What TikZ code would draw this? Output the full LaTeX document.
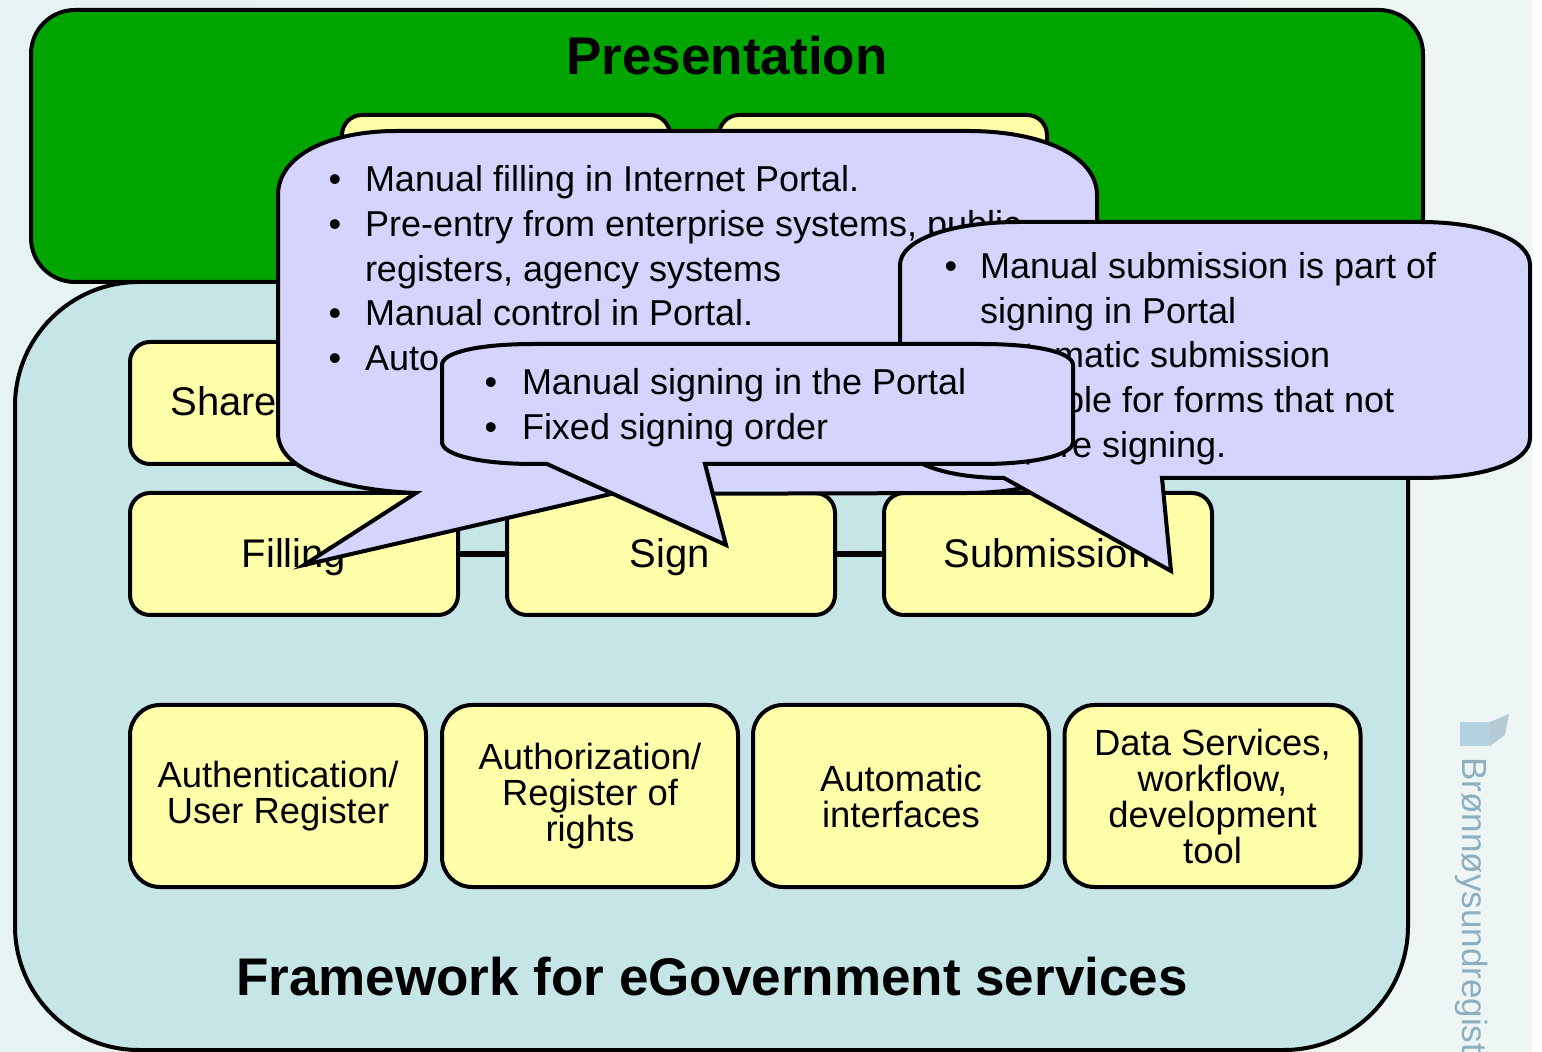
\documentclass[tikz,border=0pt]{standalone}
\usepackage{fontspec}
\setmainfont{Liberation Sans}
\definecolor{pagebg}{HTML}{EEF6F5}
\definecolor{pagebgl}{HTML}{E6F3F3}
\definecolor{greenfill}{HTML}{00A500}
\definecolor{frame}{HTML}{C5E5E7}
\definecolor{boxy}{HTML}{FFFFAA}
\definecolor{call}{HTML}{D4D4FE}
\definecolor{wm}{HTML}{8FAFBF}
\tikzset{
 x=0.5pt,y=-0.5pt,
 panel/.style={draw=black,line width=2pt,inner sep=0pt,outer sep=0pt},
 ybox/.style={panel,fill=boxy,rounded corners=10pt,minimum width=164pt,minimum height=61pt},
 lbox/.style={panel,fill=boxy,rounded corners=15pt,minimum width=148pt,minimum height=91pt,align=center,font=\fontsize{18.2}{18}\selectfont},
 balloon/.style={draw=black,line width=2pt,fill=call,line join=miter},
 ctext/.style={anchor=base west,inner sep=0pt,outer sep=0pt,font=\fontsize{18}{22}\selectfont},
 blt/.style={anchor=base,inner sep=0pt,outer sep=0pt,font=\fontsize{18}{22}\selectfont},
 bigt/.style={anchor=base,inner sep=0pt,font=\fontsize{20}{24}\selectfont},
 ttl/.style={anchor=base,inner sep=0pt,font=\fontsize{26.5}{30}\bfseries\selectfont},
 link/.style={draw=black,line width=2.6pt}
}
\begin{document}
\begin{tikzpicture}
\useasboundingbox (0,0) rectangle (1542,1052);
\fill[pagebg,left color=pagebgl,right color=pagebg] (0,0) rectangle (1532,1052);
% watermark
\begin{scope}
\clip (0,0) rectangle (1532,1052);
\fill[wm!115!black,opacity=.8] (1460,722) rectangle (1490,746);
\fill[wm,opacity=.6] (1490,722) -- (1509,714) -- (1505,735) -- (1490,746) -- cycle;
\node[wm,rotate=-90,anchor=west,inner sep=0pt,font=\fontsize{17.5}{20}\selectfont] (mark) at (1472,757) {Brønnøysundregistr};
\end{scope}
% framework
\node[panel,fill=frame,rounded corners=62pt,minimum width=696.5pt,minimum height=384pt] (fw) at (711.5,666) {};
\node[ttl] (fwt) at (712,995) {Framework for eGovernment services};
% presentation
\node[panel,fill=greenfill,rounded corners=22pt,minimum width=696pt,minimum height=136pt] (pres) at (727,146) {};
\node[ttl] (prest) at (727,75) {Presentation};
\node[ybox] (p1) at (506,176) {};
\node[ybox] (p2) at (883,176) {};
% process row
\node[ybox] (share) at (294,403) {};
\node[bigt,anchor=base west] (sharet) at (170,416) {Share};
\node[ybox] (fill) at (294,554) {};
\node[ybox] (sign) at (671,554) {};
\node[ybox] (subm) at (1048,554) {};
\node[bigt] (fillt) at (294,568) {Filling};
\node[bigt] (signt) at (670,568) {Sign};
\node[bigt] (submt) at (1047,568) {Submission};
\draw[link] (fill) -- (sign);
\draw[link] (sign) -- (subm);
% lower row
\node[lbox] (b1) at (278,796) {Authentication/\\User Register};
\node[lbox] (b2) at (590,796) {Authorization/\\Register of\\rights};
\node[lbox] (b3) at (901,796) {Automatic\\interfaces};
\node[lbox] (b4) at (1212.5,796) {Data Services,\\workflow,\\development\\tool};
% callout 1
\filldraw[balloon] (397,131) -- (968,131) .. controls (1040,131) and (1097,155) .. (1097,195)
 -- (1097,433) .. controls (1097,470) and (1040,493) .. (968,493)
 -- (611,494) -- (304,565) -- (416,493)
 .. controls (340,490) and (278,470) .. (278,433) -- (278,195)
 .. controls (278,155) and (330,131) .. (397,131) -- cycle;
\node[blt] (a1b) at (335,192) {•};
\node[ctext] (a1) at (365,192) {Manual filling in Internet Portal.};
\node[blt] (a2b) at (335,237) {•};
\node[ctext] (a2) at (365,237) {Pre-entry from enterprise systems, public};
\node[ctext] (a3) at (365,282) {registers, agency systems};
\node[blt] (a4b) at (335,326) {•};
\node[ctext] (a4) at (365,326) {Manual control in Portal.};
\node[blt] (a5b) at (335,371) {•};
\node[ctext] (a5) at (365,371) {Auto};
% callout 3
\filldraw[balloon] (1019,222) -- (1420,222) .. controls (1485,222) and (1530,240) .. (1530,265)
 -- (1530,438) .. controls (1530,462) and (1485,478) .. (1420,478)
 -- (1162,478) -- (1171,571) -- (1004,478)
 .. controls (945,478) and (900,462) .. (900,438) -- (900,265)
 .. controls (900,240) and (950,222) .. (1019,222) -- cycle;
\node[blt] (c1b) at (951,279) {•};
\node[ctext] (c1) at (980,279) {Manual submission is part of};
\node[ctext] (c2) at (980,324) {signing in Portal};
\node[blt] (c3b) at (951,368) {•};
\node[ctext] (c3) at (980,368) {Automatic submission};
\node[ctext] (c4) at (980,413) {possible for forms that not};
\node[ctext] (c5) at (980,458) {require signing.};
% callout 2
\filldraw[balloon] (534,344) -- (981,344) .. controls (1035,344) and (1073,352) .. (1073,365)
 -- (1073,442) .. controls (1073,455) and (1035,464) .. (981,464)
 -- (705,464) -- (726,545) -- (547,464) -- (534,464)
 .. controls (480,464) and (442,455) .. (442,442) -- (442,365)
 .. controls (442,352) and (480,344) .. (534,344) -- cycle;
\node[blt] (d1b) at (491,395) {•};
\node[ctext] (d1) at (522,395) {Manual signing in the Portal};
\node[blt] (d2b) at (491,440) {•};
\node[ctext] (d2) at (522,440) {Fixed signing order};
\end{tikzpicture}
\end{document}
